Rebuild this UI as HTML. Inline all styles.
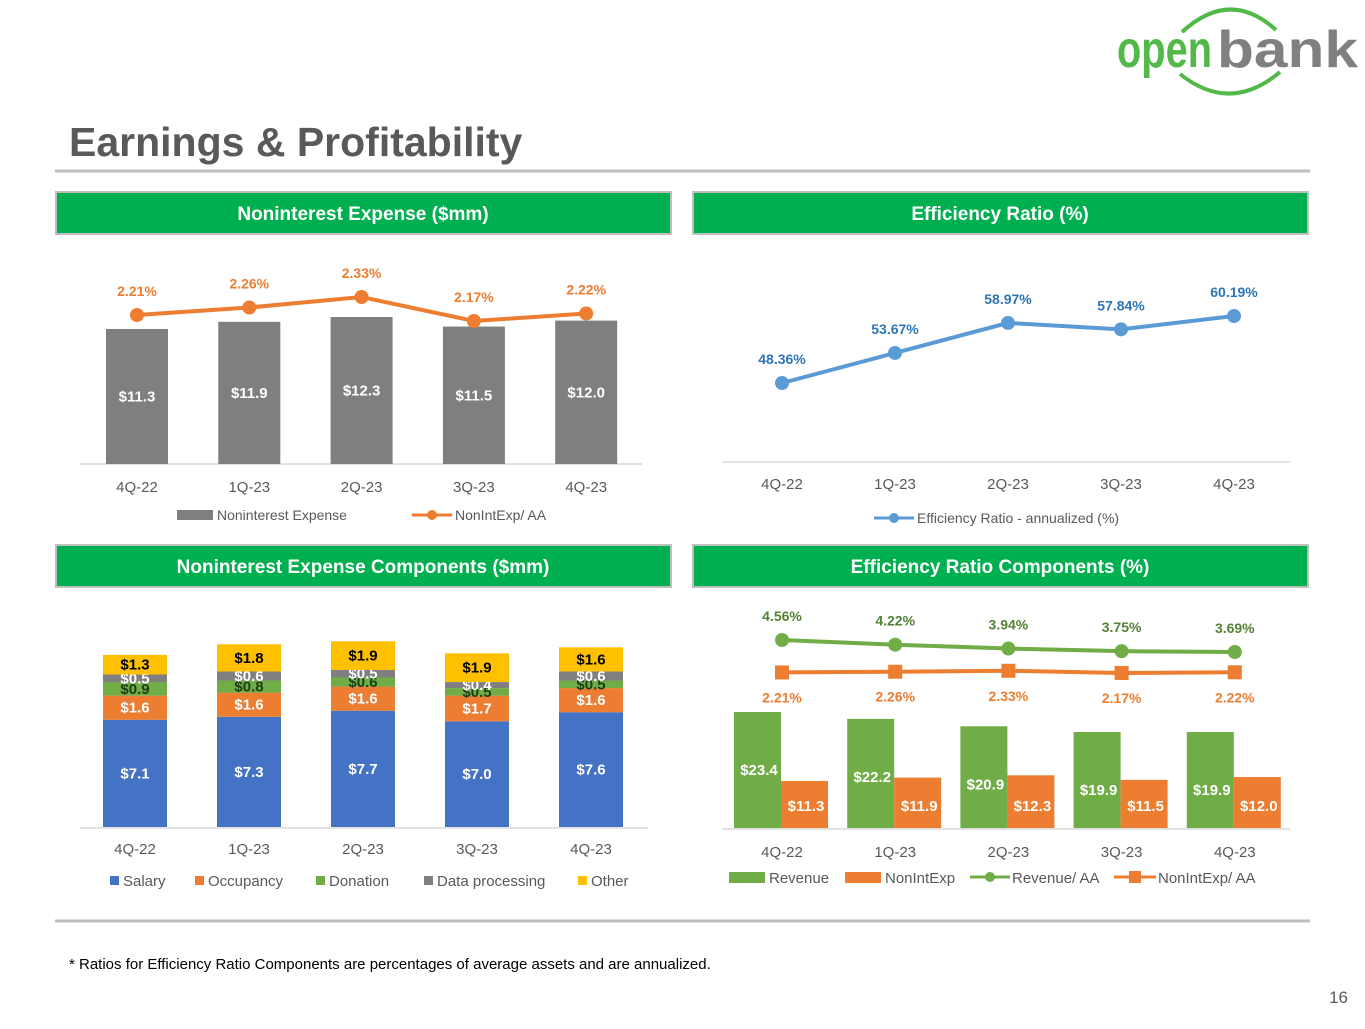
<!DOCTYPE html>
<html><head><meta charset="utf-8">
<style>
body{margin:0;width:1365px;height:1024px;background:#fff;overflow:hidden;font-family:"Liberation Sans",sans-serif;}
svg text{font-family:"Liberation Sans",sans-serif;}
</style></head>
<body>
<svg id="s" width="1365" height="1024" xmlns="http://www.w3.org/2000/svg">
  <g>
    <path d="M1182 32 Q1230 -12 1276 30" fill="none" stroke="#52b848" stroke-width="4"/>
    <path d="M1180 74 Q1230 114 1280 72" fill="none" stroke="#52b848" stroke-width="4"/>
    <text x="1117" y="67" font-size="52" font-weight="bold" fill="#52b848" textLength="95" lengthAdjust="spacingAndGlyphs">open</text>
    <text x="1217" y="67" font-size="52" font-weight="bold" fill="#808080" textLength="141" lengthAdjust="spacingAndGlyphs">bank</text>
  </g>
  <text x="69" y="156" font-size="41" font-weight="bold" fill="#595959">Earnings &amp; Profitability</text>
  <line x1="55" y1="171" x2="1310" y2="171" stroke="#bfbfbf" stroke-width="3"/>
  <line x1="55" y1="921" x2="1310" y2="921" stroke="#bfbfbf" stroke-width="3"/>

  <g><rect x="56" y="192" width="615" height="42" fill="#00b050" stroke="#bfbfbf" stroke-width="2"/><text x="363" y="220" text-anchor="middle" font-size="19" font-weight="bold" fill="#fff">Noninterest Expense ($mm)</text></g>
  <g><rect x="693" y="192" width="615" height="42" fill="#00b050" stroke="#bfbfbf" stroke-width="2"/><text x="1000" y="220" text-anchor="middle" font-size="19" font-weight="bold" fill="#fff">Efficiency Ratio (%)</text></g>
  <g><rect x="56" y="545" width="615" height="42" fill="#00b050" stroke="#bfbfbf" stroke-width="2"/><text x="363" y="573" text-anchor="middle" font-size="19" font-weight="bold" fill="#fff">Noninterest Expense Components ($mm)</text></g>
  <g><rect x="693" y="545" width="615" height="42" fill="#00b050" stroke="#bfbfbf" stroke-width="2"/><text x="1000" y="573" text-anchor="middle" font-size="19" font-weight="bold" fill="#fff">Efficiency Ratio Components (%)</text></g>

  <text x="69" y="969" font-size="15" fill="#000">* Ratios for Efficiency Ratio Components are percentages of average assets and are annualized.</text>
  <text x="1348" y="1003" font-size="17" fill="#595959" text-anchor="end">16</text>
  <g id="charts"></g>
</svg>
<script>
const categories=["4Q-22","1Q-23","2Q-23","3Q-23","4Q-23"];
const nonintExpense=[11.3,11.9,12.3,11.5,12.0];
const nonintAA=[2.21,2.26,2.33,2.17,2.22];
const efficiency=[48.36,53.67,58.97,57.84,60.19];
const salary=[7.1,7.3,7.7,7.0,7.6];
const occupancy=[1.6,1.6,1.6,1.7,1.6];
const donation=[0.9,0.8,0.6,0.5,0.5];
const dataProcessing=[0.5,0.6,0.5,0.4,0.6];
const other=[1.3,1.8,1.9,1.9,1.6];
const revenue=[23.4,22.2,20.9,19.9,19.9];
const revenueAA=[4.56,4.22,3.94,3.75,3.69];

const NS="http://www.w3.org/2000/svg";
const root=document.getElementById('charts');
function el(tag,attrs,parent,txt){const e=document.createElementNS(NS,tag);for(const k in attrs)e.setAttribute(k,attrs[k]);if(txt!==undefined)e.textContent=txt;(parent||root).appendChild(e);return e;}
function grp(name){const g=el('g',{});return g;}
const GREY="#7f7f7f",ORANGE="#ed7d31",BLUE="#5b9bd5",GREEN="#70ad47",DKBLUE="#4472c4",GOLD="#ffc000",AXIS="#d9d9d9";

// Chart 1
(function(){
  const g=grp('noninterest-expense-chart');
  const xs=i=>137+i*112.3, base=464, yb=v=>base-v*11.95, yl=v=>315-(v-2.21)*150;
  el('line',{x1:80,y1:base,x2:642,y2:base,stroke:AXIS,'stroke-width':1.5},g);
  nonintExpense.forEach((v,i)=>{
    const r=el('rect',{x:xs(i)-31,y:yb(v),width:62,height:base-yb(v),fill:GREY},g);
    
    el('text',{x:xs(i),y:(yb(v)+base)/2+5,'text-anchor':'middle','font-size':15,'font-weight':'bold',fill:'#fff'},g,'$'+v.toFixed(1));
    el('text',{x:xs(i),y:492,'text-anchor':'middle','font-size':15,fill:'#595959'},g,categories[i]);
  });
  el('polyline',{points:nonintAA.map((v,i)=>xs(i)+','+yl(v)).join(' '),fill:'none',stroke:ORANGE,'stroke-width':4},g);
  nonintAA.forEach((v,i)=>{
    const c=el('circle',{cx:xs(i),cy:yl(v),r:7,fill:ORANGE},g);
    
    el('text',{x:xs(i),y:yl(v)-19,'text-anchor':'middle','font-size':14,'font-weight':'bold',fill:ORANGE},g,v.toFixed(2)+'%');
  });
  const lg=grp('legend');g.appendChild(lg);
  el('rect',{x:177,y:510,width:36,height:10,fill:GREY},lg);
  el('text',{x:217,y:520,'font-size':14,fill:'#595959'},lg,'Noninterest Expense');
  el('line',{x1:412,y1:515,x2:452,y2:515,stroke:ORANGE,'stroke-width':3},lg);
  el('circle',{cx:432,cy:515,r:5,fill:ORANGE},lg);
  el('text',{x:455,y:520,'font-size':14,fill:'#595959'},lg,'NonIntExp/ AA');
})();

// Chart 2
(function(){
  const g=grp('efficiency-ratio-chart');
  const xs=i=>782+i*113, y=v=>383-(v-48.36)*5.66;
  el('line',{x1:722,y1:462,x2:1290,y2:462,stroke:AXIS,'stroke-width':1.5},g);
  categories.forEach((c,i)=>el('text',{x:xs(i),y:489,'text-anchor':'middle','font-size':15,fill:'#595959'},g,c));
  el('polyline',{points:efficiency.map((v,i)=>xs(i)+','+y(v)).join(' '),fill:'none',stroke:BLUE,'stroke-width':4},g);
  efficiency.forEach((v,i)=>{
    const c=el('circle',{cx:xs(i),cy:y(v),r:7,fill:BLUE},g);
    
    el('text',{x:xs(i),y:y(v)-19,'text-anchor':'middle','font-size':14,'font-weight':'bold',fill:'#2e75b6'},g,v.toFixed(2)+'%');
  });
  const lg=grp('legend');g.appendChild(lg);
  el('line',{x1:874,y1:518,x2:914,y2:518,stroke:BLUE,'stroke-width':3},lg);
  el('circle',{cx:894,cy:518,r:5,fill:BLUE},lg);
  el('text',{x:917,y:523,'font-size':14,fill:'#595959'},lg,'Efficiency Ratio - annualized (%)');
})();

// Chart 3
(function(){
  const g=grp('expense-components-chart');
  const xs=i=>135+i*114, base=827, k=15.1;
  const series=[[salary,DKBLUE,'#fff','salary'],[occupancy,ORANGE,'#fff','occupancy'],[donation,GREEN,'#1e3d12','donation'],[dataProcessing,GREY,'#fff','data-processing'],[other,GOLD,'#000','other']];
  el('line',{x1:80,y1:base+1,x2:648,y2:base+1,stroke:AXIS,'stroke-width':1.5},g);
  categories.forEach((c,i)=>{
    let acc=0;
    series.forEach(([arr,col,tc,nm])=>{
      const v=arr[i], y0=base-acc*k, h=v*k;
      const r=el('rect',{x:xs(i)-32,y:y0-h,width:64,height:h,fill:col},g);
      
      el('text',{x:xs(i),y:y0-h/2+5,'text-anchor':'middle','font-size':15,'font-weight':'bold',fill:tc},g,'$'+v.toFixed(1));
      acc+=v;
    });
    el('text',{x:xs(i),y:854,'text-anchor':'middle','font-size':15,fill:'#595959'},g,c);
  });
  const lg=grp('legend');g.appendChild(lg);
  const items=[['Salary',DKBLUE,110],['Occupancy',ORANGE,195],['Donation',GREEN,316],['Data processing',GREY,424],['Other',GOLD,578]];
  items.forEach(([t,c,x])=>{el('rect',{x:x,y:876,width:9,height:9,fill:c},lg);el('text',{x:x+13,y:886,'font-size':15,fill:'#595959'},lg,t);});
})();

// Chart 4
(function(){
  const g=grp('efficiency-components-chart');
  const xs=i=>782+i*113.2, base=828, yb=v=>781-(v-11.3)*5.7, yl=v=>640-(v-4.56)*13.8;
  categories.forEach((c,i)=>{
    const x=xs(i);
    const r1=el('rect',{x:x-48,y:yb(revenue[i]),width:47,height:base-yb(revenue[i]),fill:GREEN},g);
    
    const r2=el('rect',{x:x-1,y:yb(nonintExpense[i]),width:47,height:base-yb(nonintExpense[i]),fill:ORANGE},g);
    
    el('text',{x:x-23,y:yb(revenue[i])+63,'text-anchor':'middle','font-size':15,'font-weight':'bold',fill:'#fff'},g,'$'+revenue[i].toFixed(1));
    el('text',{x:x+24,y:base-17,'text-anchor':'middle','font-size':15,'font-weight':'bold',fill:'#fff'},g,'$'+nonintExpense[i].toFixed(1));
    el('text',{x:x,y:857,'text-anchor':'middle','font-size':15,fill:'#595959'},g,c);
  });
  el('line',{x1:722,y1:base+1,x2:1290,y2:base+1,stroke:AXIS,'stroke-width':1.5},g);
  el('polyline',{points:revenueAA.map((v,i)=>xs(i)+','+yl(v)).join(' '),fill:'none',stroke:GREEN,'stroke-width':4},g);
  el('polyline',{points:nonintAA.map((v,i)=>xs(i)+','+yl(v)).join(' '),fill:'none',stroke:ORANGE,'stroke-width':4},g);
  revenueAA.forEach((v,i)=>{
    const c=el('circle',{cx:xs(i),cy:yl(v),r:7,fill:GREEN},g);
    
    el('text',{x:xs(i),y:yl(v)-19,'text-anchor':'middle','font-size':14,'font-weight':'bold',fill:'#548235'},g,v.toFixed(2)+'%');
  });
  nonintAA.forEach((v,i)=>{
    const c=el('rect',{x:xs(i)-7,y:yl(v)-7,width:14,height:14,fill:ORANGE},g);
    
    el('text',{x:xs(i),y:yl(v)+30,'text-anchor':'middle','font-size':14,'font-weight':'bold',fill:ORANGE},g,v.toFixed(2)+'%');
  });
  const lg=grp('legend');g.appendChild(lg);
  el('rect',{x:729,y:872,width:36,height:11,fill:GREEN},lg);
  el('text',{x:769,y:883,'font-size':15,fill:'#595959'},lg,'Revenue');
  el('rect',{x:845,y:872,width:36,height:11,fill:ORANGE},lg);
  el('text',{x:885,y:883,'font-size':15,fill:'#595959'},lg,'NonIntExp');
  el('line',{x1:970,y1:877,x2:1010,y2:877,stroke:GREEN,'stroke-width':3},lg);
  el('circle',{cx:990,cy:877,r:5,fill:GREEN},lg);
  el('text',{x:1012,y:883,'font-size':15,fill:'#595959'},lg,'Revenue/ AA');
  el('line',{x1:1114,y1:877,x2:1156,y2:877,stroke:ORANGE,'stroke-width':3},lg);
  el('rect',{x:1129,y:871,width:12,height:12,fill:ORANGE},lg);
  el('text',{x:1158,y:883,'font-size':15,fill:'#595959'},lg,'NonIntExp/ AA');
})();
</script>
</body></html>
